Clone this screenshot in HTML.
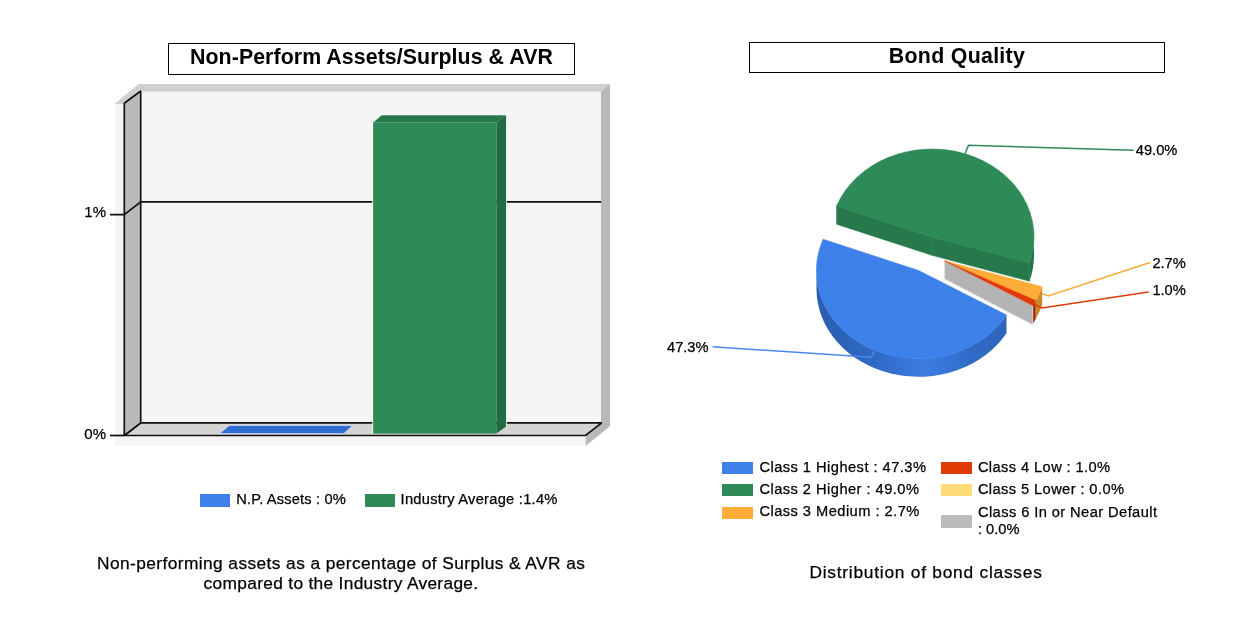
<!DOCTYPE html>
<html lang="en">
<head>
<meta charset="utf-8">
<title>Non-Perform Assets / Bond Quality</title>
<style>
html,body{margin:0;padding:0;background:#fff;}
body{width:1257px;height:628px;position:relative;overflow:hidden;font-family:"Liberation Sans",Arial,Helvetica,sans-serif;color:#000;}
.abs{position:absolute;white-space:nowrap;}
.title{position:absolute;box-sizing:border-box;border:1.5px solid #000;background:#fff;text-align:center;font-weight:bold;font-size:21.33px;white-space:nowrap;}
.lg{position:absolute;-webkit-text-stroke:0.25px #000;font-size:14.67px;line-height:16px;white-space:nowrap;}
.sw{position:absolute;width:30.6px;height:12.4px;}
.cap{position:absolute;-webkit-text-stroke:0.25px #000;font-size:17.33px;line-height:20px;text-align:center;white-space:nowrap;}
svg{position:absolute;left:0;top:0;}
svg text{stroke:#000;stroke-width:0.25px;font-family:"Liberation Sans",Arial,Helvetica,sans-serif;font-size:14.67px;fill:#000;}
</style>
</head>
<body>

<!-- ============ LEFT: 3D bar chart ============ -->
<div class="title" id="t1" style="left:168px;top:42.6px;width:407px;height:32px;line-height:27px;letter-spacing:0.07px;">Non-Perform Assets/Surplus &amp; AVR</div>

<svg width="1257" height="628" viewBox="0 0 1257 628">
  <defs>
    <linearGradient id="bw" x1="0" y1="0" x2="1" y2="0">
      <stop offset="0" stop-color="#295db0"/>
      <stop offset="0.3" stop-color="#2f69c4"/>
      <stop offset="0.58" stop-color="#3c7ce4"/>
      <stop offset="0.8" stop-color="#316cc8"/>
      <stop offset="1" stop-color="#2c64bb"/>
    </linearGradient>
  </defs>
  <!-- outer slab -->
  <polygon points="114.4,104 138.6,84 610,84 600.7,92 140,92 124,104" fill="#d0d0d0"/>
  <polygon points="600.7,92 610,84 610,426.3 585.5,446 585.5,435.5 600.7,423.5" fill="#b8b8b8"/>
  <rect x="115" y="104" width="10" height="342" fill="#f5f5f5"/>
  <rect x="115" y="435" width="470.5" height="11" fill="#f5f5f5"/>
  <!-- back wall -->
  <rect x="140.6" y="91.6" width="460.1" height="331.4" fill="#f5f5f5"/>
  <!-- floor -->
  <polygon points="124.3,435.5 140.7,422.8 601.7,422.8 585.5,435.5" fill="#d4d4d4" stroke="#111" stroke-width="1.7" stroke-linejoin="miter" stroke-miterlimit="1.8"/>
  <!-- left wall -->
  <polygon points="124.3,103.3 140.7,91 140.7,422.8 124.3,435.5" fill="#bababa" stroke="#111" stroke-width="1.7" stroke-linejoin="miter" stroke-miterlimit="1.8"/>
  <!-- grid line 1% -->
  <polyline points="109.9,214.6 124.3,214.6 140.7,201.9 601.2,201.9" fill="none" stroke="#111" stroke-width="1.7"/>
  <line x1="109.9" y1="435.5" x2="124.3" y2="435.5" stroke="#111" stroke-width="1.7"/>
  <text x="106" y="217" text-anchor="end" style="font-size:15px">1%</text>
  <text x="106" y="439.2" text-anchor="end" style="font-size:15px">0%</text>

  <!-- N.P. Assets bar (0%) -->
  <polygon points="219.7,433.6 229.3,425.4 352.7,425.4 343.8,433.6" fill="#2f6dd0" stroke="#e8eef8" stroke-width="0.6"/>
  <!-- Industry Average bar -->
  <polyline points="373.1,433.6 373.1,122.4 381.7,115.3 506.1,115.3 506.1,426.5" fill="none" stroke="#fff" stroke-width="1.6" stroke-linejoin="round"/>
  <polygon points="373.1,122.4 381.7,115.3 506.1,115.3 496.3,122.4" fill="#277848"/>
  <polygon points="496.3,122.4 506.1,115.3 506.1,426.5 496.3,433.6" fill="#246b41"/>
  <rect x="373.1" y="122.4" width="123.2" height="311.2" fill="#2e8b57"/>

  <!-- ============ RIGHT: 3D pie ============ -->
  <!-- green slice -->
  <path d="M1034.0,237.0 A102.0,88.0 0 0 1 1029.5,262.9 L1029.5,281.2 A102.0,88.0 0 0 0 1034.0,255.3 Z" fill="#256f45"/>
  <path d="M932.0,237.0 L836.6,205.9 L836.6,224.2 L932.0,255.3 Z" fill="#27784a" stroke="#27784a" stroke-width="0.6"/>
  <path d="M932.0,237.0 L1029.5,262.9 L1029.5,281.2 L932.0,255.3 Z" fill="#27784a" stroke="#27784a" stroke-width="0.6"/>
  <line x1="932" y1="238" x2="932" y2="255" stroke="#2e8b57" stroke-width="1"/>
  <path d="M932.0,237.0 L836.6,205.9 A102.0,88.0 0 0 1 1029.5,262.9 Z" fill="#2e8b57" stroke="#2e8b57" stroke-width="0.6"/>
  <!-- small slices -->
  <path d="M1042.2,286.8 A102.0,88.0 0 0 1 1035.7,300.6 L1035.7,318.9 A102.0,88.0 0 0 0 1042.2,305.1 Z" fill="#c88a26"/>
  <path d="M1035.7,300.6 A102.0,88.0 0 0 1 1032.7,305.5 L1032.7,323.8 A102.0,88.0 0 0 0 1035.7,318.9 Z" fill="#a82a08"/>
  <path d="M944.7,260.9 L1032.7,305.5 L1032.7,324.7 L944.7,278.9 Z" fill="#b4b4b4" stroke="#d8d8d8" stroke-width="0.8"/>
  <path d="M944.7,260.9 L1042.2,286.8 A102.0,88.0 0 0 1 1035.7,300.6 Z" fill="#ffab38" stroke="#ffab38" stroke-width="0.6"/>
  <path d="M944.7,260.9 L1035.7,300.6 A102.0,88.0 0 0 1 1032.7,305.5 Z" fill="#e03a08" stroke="#e03a08" stroke-width="0.6"/>
  <!-- blue slice -->
  <path d="M1006.5,315.0 A102.0,88.0 0 0 1 816.5,270.4 L816.5,288.7 A102.0,88.0 0 0 0 1006.5,333.3 Z" fill="url(#bw)"/>
  <path d="M918.5,270.4 L1006.5,315.0 A102.0,88.0 0 0 1 823.1,239.3 Z" fill="#3e80ea" stroke="#3e80ea" stroke-width="0.6"/>
  <!-- leader lines -->
  <polyline points="965.2,153.4 968.5,145.3 1133.5,150.3" fill="none" stroke="#2e8b57" stroke-width="1.5"/>
  <polyline points="1041.5,293.4 1048.2,296 1150.1,262.5" fill="none" stroke="#ffab38" stroke-width="1.5"/>
  <polyline points="1034.4,304.4 1042,308 1148.6,291.9" fill="none" stroke="#e03a08" stroke-width="1.5"/>
  <polyline points="874.7,350.8 870.8,357.2 712.6,346.8" fill="none" stroke="#4a88ee" stroke-width="1.4"/>
  <text x="1135.8" y="155">49.0%</text>
  <text x="1152.4" y="267.8">2.7%</text>
  <text x="1152.4" y="295.2">1.0%</text>
  <text x="667" y="352">47.3%</text>
</svg>

<div class="sw" style="left:200px;top:493.6px;width:30px;height:13px;background:#3e80ea;"></div>
<div class="lg" id="l1" style="left:236.2px;top:491.3px;letter-spacing:0.16px;">N.P. Assets : 0%</div>
<div class="sw" style="left:365.2px;top:493.6px;width:30px;height:13px;background:#2e8b57;"></div>
<div class="lg" id="l2" style="left:400.6px;top:491.3px;letter-spacing:0.26px;">Industry Average :1.4%</div>

<div class="cap" id="c1" style="left:97px;top:553px;width:488px;letter-spacing:0.41px;">Non-performing assets as a percentage of Surplus &amp; AVR as<br><span id="c1b" style="letter-spacing:0.31px;">compared to the Industry Average.</span></div>

<!-- right title -->
<div class="title" id="t2" style="left:749px;top:41.5px;width:416px;height:31.7px;line-height:27px;letter-spacing:0.3px;">Bond Quality</div>

<!-- right legend -->
<div class="sw" style="left:722px;top:462px;background:#3e80ea;"></div>
<div class="lg" id="r1" style="left:759.4px;top:459.2px;letter-spacing:0.46px;">Class 1 Highest : 47.3%</div>
<div class="sw" style="left:722px;top:484px;background:#2e8b57;"></div>
<div class="lg" id="r2" style="left:759.4px;top:481.2px;letter-spacing:0.46px;">Class 2 Higher : 49.0%</div>
<div class="sw" style="left:722px;top:506.5px;background:#ffab38;"></div>
<div class="lg" id="r3" style="left:759.4px;top:503.4px;letter-spacing:0.46px;">Class 3 Medium : 2.7%</div>
<div class="sw" style="left:941px;top:462px;background:#de3a06;"></div>
<div class="lg" id="r4" style="left:977.9px;top:459.2px;letter-spacing:0.4px;">Class 4 Low : 1.0%</div>
<div class="sw" style="left:941px;top:484px;background:#ffdc78;"></div>
<div class="lg" id="r5" style="left:977.9px;top:481.2px;letter-spacing:0.4px;">Class 5 Lower : 0.0%</div>
<div class="sw" style="left:941px;top:515.4px;background:#bbbbbb;"></div>
<div class="lg" id="r6" style="left:977.9px;top:503.5px;letter-spacing:0.42px;line-height:17px;">Class 6 In or Near Default<br><span style="letter-spacing:0">: 0.0%</span></div>

<div class="cap" id="c2" style="left:809.4px;top:562.2px;letter-spacing:0.76px;">Distribution of bond classes</div>

</body>
</html>
